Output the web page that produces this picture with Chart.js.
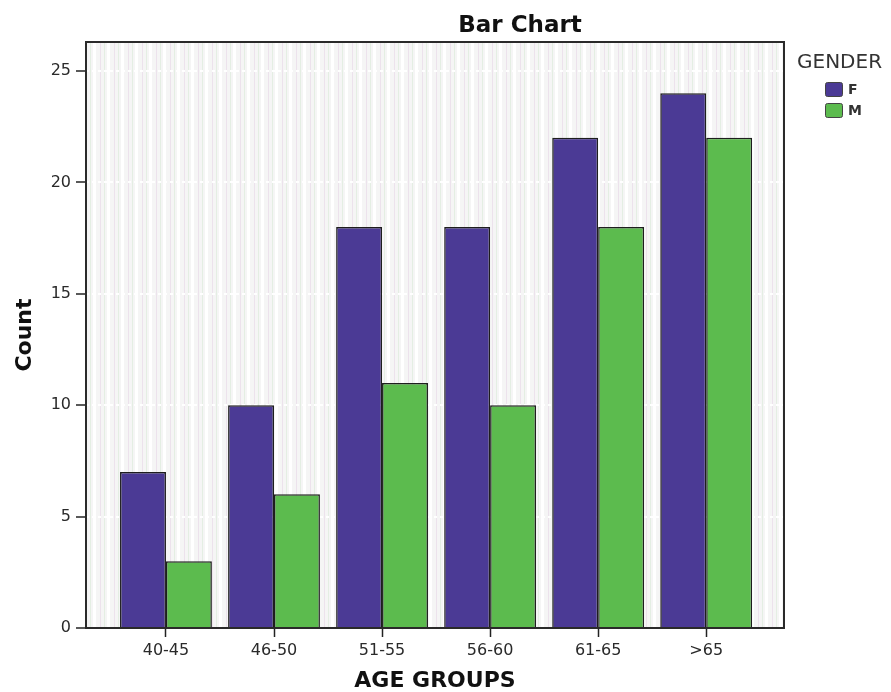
<!DOCTYPE html>
<html>
<head>
<meta charset="utf-8">
<script src="https://cdn.jsdelivr.net/npm/chart.js@4"></script>
<style>
  html, body { margin: 0; padding: 0; background: #fff; }
  canvas { display: block; }
</style>
</head>
<body>
<canvas id="chart" width="891" height="692"></canvas>
<script>
const ageGroups = ['40-45', '46-50', '51-55', '56-60', '61-65', '>65'];
const femaleCounts = [7, 10, 18, 18, 22, 24];
const maleCounts = [3, 6, 11, 10, 18, 22];
const countTicks = [0, 5, 10, 15, 20, 25];
const genderTitle = 'GENDER';

// striped spss-ish background
function stripePattern(ctx) {
    const c = document.createElement('canvas');
    c.width = 14; c.height = 4;
    const p = c.getContext('2d');
    p.fillStyle = '#f5f5f5'; p.fillRect(0, 0, 14, 4);
    p.fillStyle = '#ece2ec'; p.fillRect(2, 0, 1, 4);
    p.fillStyle = '#e4eee3'; p.fillRect(6, 0, 1, 4);
    p.fillStyle = '#ffffff'; p.fillRect(9, 0, 3, 4);
    return ctx.createPattern(c, 'repeat');
}

const plotFrame = {
    id: 'plotFrame',
    beforeDraw(chart) {
        const {ctx, chartArea: a} = chart;
        ctx.save();
        ctx.fillStyle = stripePattern(ctx);
        ctx.fillRect(a.left, a.top, a.right - a.left, a.bottom - a.top);
        ctx.restore();
    },
    afterDatasetsDraw(chart) {
        const {ctx, chartArea: a} = chart;
        ctx.save();
        ctx.strokeStyle = '#2a2a2a';
        ctx.lineWidth = 2;
        ctx.strokeRect(a.left, a.top, a.right - a.left, a.bottom - a.top);
        ctx.restore();
    },
    afterDraw(chart) {
        const ctx = chart.ctx;
        ctx.save();
        // title
        ctx.fillStyle = '#111';
        ctx.font = 'bold 23px "DejaVu Sans"';
        ctx.textAlign = 'center';
        ctx.textBaseline = 'alphabetic';
        ctx.fillText('Bar Chart', 520, 32);
        // legend
        ctx.textAlign = 'left';
        ctx.fillStyle = '#333';
        ctx.font = '20px "DejaVu Sans"';
        ctx.fillText(genderTitle, 797, 68);
        chart.data.datasets.forEach((ds, i) => {
            const y = 82 + i * 21;
            ctx.fillStyle = ds.backgroundColor;
            ctx.strokeStyle = '#444';
            ctx.lineWidth = 1;
            ctx.beginPath();
            ctx.roundRect(825.5, y + 0.5, 17, 14, 2);
            ctx.fill();
            ctx.stroke();
            ctx.fillStyle = '#333';
            ctx.font = 'bold 14px "DejaVu Sans"';
            ctx.textBaseline = 'middle';
            ctx.fillText(ds.label, 848, y + 8);
            ctx.textBaseline = 'alphabetic';
        });
        ctx.restore();
    }
};

new Chart(document.getElementById('chart'), {
    type: 'bar',
    data: {
        datasets: [{
            label: 'F',
            data: femaleCounts.map((y, i) => ({x: i, y: y})),
            backgroundColor: '#4b3a95',
            borderColor: '#1e1e1e',
            borderWidth: 1.5
        }, {
            label: 'M',
            data: maleCounts.map((y, i) => ({x: i, y: y})),
            backgroundColor: '#5cbb4e',
            borderColor: '#1e1e1e',
            borderWidth: 1.5
        }]
    },
    options: {
        responsive: false,
        devicePixelRatio: 1,
        animation: false,
        categoryPercentage: 0.85,
        barPercentage: 1,
        layout: { padding: { top: 42, right: 107, left: 0, bottom: 0 } },
        plugins: {
            legend: { display: false },
            title: { display: false },
            tooltip: { enabled: false }
        },
        scales: {
            x: {
                type: 'linear',
                min: -0.74,
                max: 5.72,
                offset: false,
                afterBuildTicks: (scale) => {
                    scale.ticks = ageGroups.map((_, i) => ({value: i}));
                },
                afterFit: (scale) => { scale.height = 64; },
                ticks: {
                    callback: (v) => ageGroups[v],
                    color: '#2a2a2a',
                    font: { family: 'DejaVu Sans', size: 16 },
                    padding: 4,
                    maxRotation: 0
                },
                grid: {
                    offset: false,
                    drawOnChartArea: false,
                    tickLength: 9,
                    tickColor: '#222',
                    tickWidth: 1.5
                },
                border: { display: false },
                title: {
                    display: true,
                    text: 'AGE GROUPS',
                    color: '#111',
                    font: { family: 'DejaVu Sans', size: 22, weight: 'bold', lineHeight: 1 },
                    padding: { top: 4, bottom: 0 }
                }
            },
            y: {
                min: 0,
                max: 26.3,
                afterBuildTicks: (scale) => {
                    scale.ticks = countTicks.map(v => ({value: v}));
                },
                afterFit: (scale) => { scale.width = 86; },
                ticks: {
                    color: '#2a2a2a',
                    font: { family: 'DejaVu Sans', size: 16 },
                    padding: 5
                },
                grid: {
                    color: 'rgba(255,255,255,0.95)',
                    lineWidth: 2,
                    tickLength: 10,
                    tickColor: '#222',
                    tickWidth: 1.5
                },
                border: { display: false, dash: [3, 3] },
                title: {
                    display: true,
                    text: 'Count',
                    color: '#111',
                    font: { family: 'DejaVu Sans', size: 22, weight: 'bold', lineHeight: 1 },
                    padding: { top: 14, bottom: 0 }
                }
            }
        }
    },
    plugins: [plotFrame]
});
</script>
</body>
</html>
